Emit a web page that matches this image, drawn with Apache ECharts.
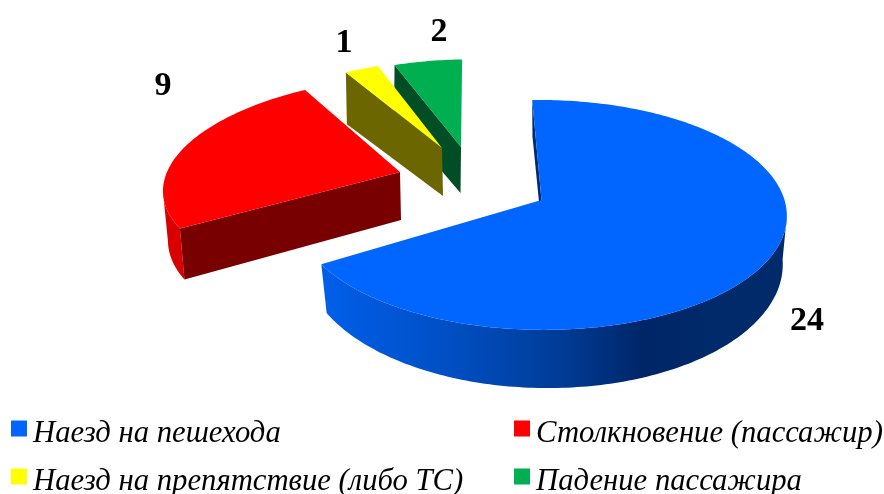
<!DOCTYPE html>
<html><head><meta charset="utf-8">
<style>html,body{margin:0;padding:0;background:#fff}#c{width:884px;height:494px}</style>
<script src="https://cdn.jsdelivr.net/npm/echarts@6/dist/echarts.min.js"></script>
</head><body><div id="c"></div>
<script>
const categories = ['Наезд на пешехода','Столкновение (пассажир)','Наезд на препятствие (либо ТС)','Падение пассажира'];
const values = [24, 9, 1, 2];
const colors = ['#0066ff','#ff0000','#ffff00','#00b050'];
const startAngle = -2;

const blueWall = new echarts.graphic.LinearGradient(0,0,1,0,[
  {offset:0,color:'#005fea'},{offset:.27,color:'#004fc4'},{offset:.51,color:'#003c98'},
  {offset:.69,color:'#002668'},{offset:.85,color:'#002a6a'},{offset:1,color:'#002a6a'}]);
const views = [
 {top:{x:541.5,y:200,R:243,S:113,k:.13,sh:-2}, bot:{x:543,y:242,R:236,S:122.7,k:.16,sh:-4},
  cut:'#002a6e', outer:blueWall, label:{x:807,y:321.5}},
 {top:{x:400,y:172,R:233,S:102.5,k:.07,sh:27}, bot:{x:401,y:220,R:229,S:108,k:.07,sh:27},
  cut:'#780000', outer:'#d80000', label:{x:163,y:86.5}},
 {top:{x:442,y:148,R:219,S:99,k:.13,sh:11}, bot:{x:443,y:196,R:219,S:94,k:.13,sh:11},
  cut:'#6b6600', outer:'#6b6600', label:{x:344,y:43.5}},
 {top:{x:461,y:147,R:221,S:99,k:.13,sh:9}, bot:{x:460.5,y:193,R:221,S:94,k:.13,sh:9},
  cut:'#004d26', outer:'#004d26', label:{x:439,y:32}}
];
const legendPos = [[11,418],[514,418],[11,466],[514,466]];
const legendIcon = 'path://M0,0H16V16H0Z M0,26L16,26';
const drawOrder = [0,1,3,2];

function project(f, deg){
  const a = deg*Math.PI/180, u = Math.sin(a), v = Math.cos(a), d = 1+f.k*v;
  return [f.x+(f.R*u+f.sh*v)/d, f.y-f.S*v/d];
}
function arc(f, a0, a1, n){
  const pts=[]; for(let i=0;i<=n;i++) pts.push(project(f,a0+(a1-a0)*i/n)); return pts;
}
const total = values.reduce((s,v)=>s+v,0);
let cum = startAngle;
const spans = values.map(v=>{const s=[cum,cum+v/total*360]; cum=s[1]; return s;});

function makeItem(i){
  return function(){
    const vw=views[i], [a0,a1]=spans[i], T=vw.top, B=vw.bot, n=Math.max(12,Math.round((a1-a0)));
    const topArc=arc(T,a0,a1,n), botArc=arc(B,a0,a1,n), kids=[];
    // the outer wall shows only where the rim runs right-to-left (near side of the disc)
    const seen=[];
    for(let j=0;j<=n;j++){
      const next=topArc[Math.min(j+1,n)], prev=topArc[Math.max(j-1,0)];
      if(next[0]<prev[0]) seen.push(j);
    }
    if(seen.length>1){
      kids.push({type:'polygon',shape:{points:seen.map(j=>topArc[j]).concat(seen.slice().reverse().map(j=>botArc[j]))},
        style:{fill:vw.outer}});
    }
    kids.push({type:'polygon',shape:{points:[[T.x,T.y],topArc[0],botArc[0],[B.x,B.y]]},style:{fill:vw.cut}});
    kids.push({type:'polygon',shape:{points:[[T.x,T.y]].concat(topArc)},style:{fill:colors[i]}});
    kids.push({type:'text',style:{text:String(values[i]),x:vw.label.x,y:vw.label.y,align:'center',verticalAlign:'middle',
        font:'bold 34px "Liberation Serif"',fill:'#000'}});
    return {type:'group',children:kids};
  };
}
const chart = echarts.init(document.getElementById('c'),null,{renderer:'canvas'});
chart.setOption({
  animation:false,
  backgroundColor:'#fff',
  legend: categories.map((c,i)=>({
    data:[c],left:legendPos[i][0],top:legendPos[i][1],padding:0,itemWidth:16,itemHeight:26,icon:legendIcon,
    selectedMode:false,
    textStyle:{fontFamily:'Liberation Serif',fontStyle:'italic',fontSize:30.7,color:'#000',padding:[0,0,0,1]}
  })),
  series: drawOrder.map(i=>({
    type:'custom',name:categories[i],coordinateSystem:'none',
    itemStyle:{color:colors[i]},
    data:[values[i]],renderItem:makeItem(i),silent:true
  }))
});
</script></body></html>
